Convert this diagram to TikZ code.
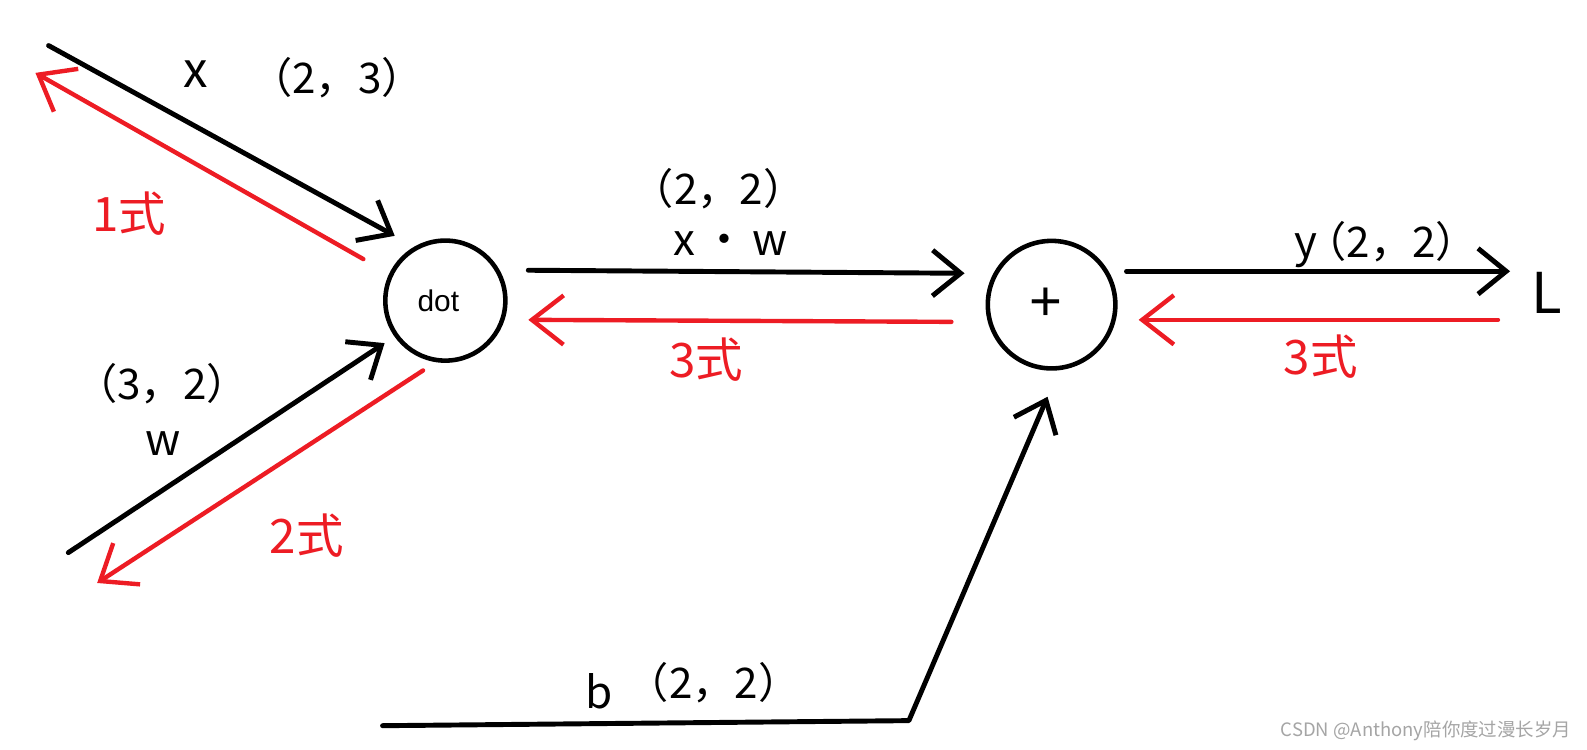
\documentclass[tikz,border=0pt]{standalone}
\usepackage{fontspec}
\setmainfont{Noto Sans CJK SC}
\newfontfamily\latf{Liberation Sans}
\usetikzlibrary{arrows.meta,calc}
\definecolor{redline}{RGB}{237,28,36}
\definecolor{wmgray}{RGB}{165,165,165}
\begin{document}
\begin{tikzpicture}[x=0.02024cm,y=-0.02024cm,
  fwd/.style={draw=black,line width=2.8pt,line cap=round,line join=round,-{Straight Barb[length=16pt,width=26pt]}},
  bwd/.style={draw=redline,line width=2.5pt,line cap=round,line join=round,-{Straight Barb[length=18pt,width=28pt]}},
  opnode/.style={circle,draw=black,line width=2.6pt,inner sep=0pt},
  numlbl/.style={font=\fontsize{24}{28}\selectfont,text=black,inner sep=0pt},
  letlbl/.style={font=\fontsize{25}{28}\selectfont,text=black,inner sep=0pt},
  redlbl/.style={font=\fontsize{27}{30}\selectfont,text=redline,inner sep=0pt}]
\path[fill=white,use as bounding box] (0,0) rectangle (1568,741);

% operation nodes
\node[opnode,minimum size=2.4cm,font=\latf\fontsize{17}{20}\selectfont] (dot) at (440,297) {\hspace*{-8pt}dot};
\node[opnode,minimum size=2.55cm,font=\latf\fontsize{32}{36}\selectfont] (plus) at (1039,301) {\hspace*{-6pt}+};
\node[letlbl,font=\fontsize{32}{36}\selectfont] (L) at (1528,289) {L};

% free ends
\coordinate (xs) at (48,45);
\coordinate (r1) at (35,72);
\coordinate (ws) at (67.5,546);
\coordinate (r2) at (96,576);
\coordinate (bs) at (378,717);
\coordinate (bc) at (898,712);

% forward (black)
\draw[fwd] (xs) -- ([shift={(-50,-64)}]dot.center);
\draw[fwd] (ws) -- ([shift={(-60,42)}]dot.center);
\draw[fwd] ([shift={(82,-30)}]dot.center) -- ([shift={(-86,-31)}]plus.center);
\draw[fwd] ([shift={(74,-33)}]plus.center) -- ([shift={(-36,-21)}]L.center);
\draw[fwd] (bs) -- (bc) -- ([shift={(-4,91)}]plus.center);

% backward (red)
\draw[bwd] ([shift={(-81,-41)}]dot.center) -- (r1);
\draw[bwd] ([shift={(-22,69)}]dot.center) -- (r2);
\draw[bwd] ([shift={(-99,17)}]plus.center) -- ([shift={(82,19)}]dot.center);
\draw[bwd] ([shift={(-48,27)}]L.center) -- ([shift={(86,15)}]plus.center);

% labels
\node[letlbl,font=\fontsize{28}{30}\selectfont] (lx) at (193,73) {x};
\node[numlbl] (lx2) at (333,77) {（2，3）};
\node[numlbl] (lw2) at (160,379) {（3，2）};
\node[letlbl] (lw) at (161,438) {w};
\node[numlbl] (lxw2) at (710,186) {（2，2）};
\node[letlbl] (lxw) at (722,241) {x\hspace{-2pt} · \hspace{-2pt}w};
\node[numlbl,anchor=base west] (ly) at (1279,254) {{\fontsize{25}{28}\selectfont y}\hspace{-7.5pt}（2，2）};
\node[letlbl] (lb) at (592,683) {b};
\node[numlbl] (lb2) at (705,675) {（2，2）};

\node[redlbl] (g1) at (128,211) {1式};
\node[redlbl] (g2) at (303,529) {2式};
\node[redlbl] (g3a) at (698,355) {3式};
\node[redlbl] (g3b) at (1305,352) {3式};

\node[font=\fontsize{10.5}{12}\selectfont,text=wmgray,inner sep=0pt] (wm) at (1409,722) {CSDN @Anthony陪你度过漫长岁月};
\end{tikzpicture}
\end{document}
